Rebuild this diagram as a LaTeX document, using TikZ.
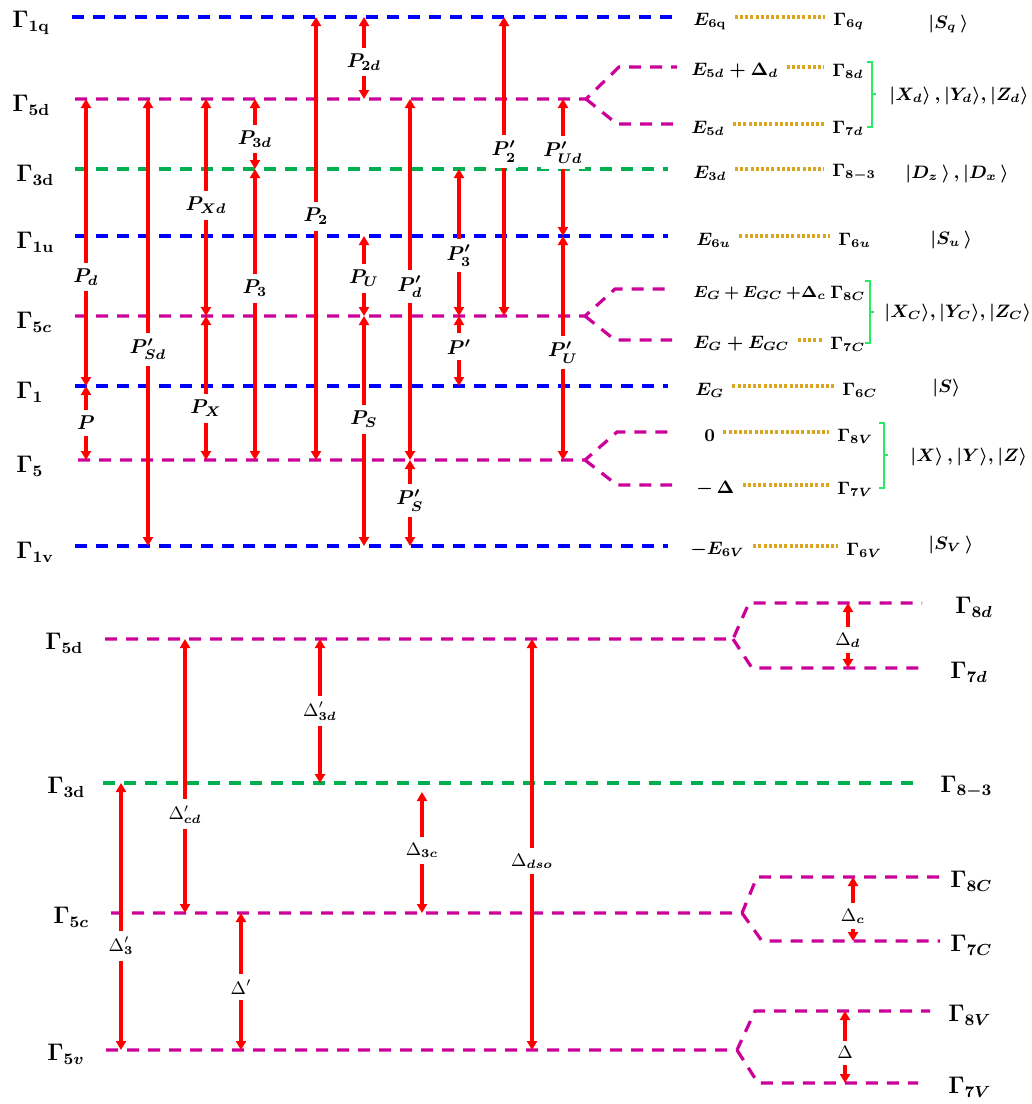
\documentclass[tikz,border=0pt]{standalone}
\usepackage{xcolor}
\usepackage{tikz}
\usetikzlibrary{arrows.meta}
\usepackage{amsmath,bm}

\definecolor{lvlblue}{RGB}{0,0,255}
\definecolor{lvlmag}{RGB}{204,0,153}
\definecolor{lvlgreen}{RGB}{0,176,80}
\definecolor{linkgold}{RGB}{218,165,32}
\definecolor{brgreen}{RGB}{40,235,100}

\begin{document}
\begin{tikzpicture}[
		x=0.5pt, y=-0.5pt,
		lvl/.style={line width=1.6pt, dash pattern=on 6pt off 4.5pt},
		gap/.style={red, line width=1.6pt, >={Triangle[width=5pt,length=4.5pt]}, <->},
		plab/.style={fill=white, text=black, font=\normalsize\boldmath, inner xsep=1pt, inner ysep=3pt},
		dlab/.style={fill=white, text=black, font=\small, inner xsep=1pt, inner ysep=3pt},
		glab/.style={font=\fontsize{11.5}{13}\selectfont\boldmath, anchor=west, inner sep=0pt, yshift=-3pt},
		blab/.style={font=\large\boldmath, anchor=west, inner sep=0pt, yshift=-2pt},
		rlab/.style={font=\small\boldmath, anchor=west, inner sep=0pt, yshift=-2pt},
		ket/.style={font=\small\boldmath, anchor=west, inner sep=0pt},
		lnk/.style={linkgold, line width=1.7pt, dash pattern=on 1.5pt off 1.1pt, shorten <=4pt, shorten >=4pt},
		brk/.style={brgreen, line width=1.1pt}
		]
		\useasboundingbox (0,0) rectangle (1032,1104);
		
		% levels, upper scheme
		\coordinate (t1q) at (0,17);
		\coordinate (t8d) at (0,67);
		\coordinate (t5d) at (0,99);
		\coordinate (t7d) at (0,124);
		\coordinate (t3d) at (0,169);
		\coordinate (t1u) at (0,236);
		\coordinate (t8c) at (0,289);
		\coordinate (t5c) at (0,316);
		\coordinate (t7c) at (0,340);
		\coordinate (t1) at (0,386);
		\coordinate (t8v) at (0,432);
		\coordinate (t5) at (0,460);
		\coordinate (t7v) at (0,485);
		\coordinate (t1v) at (0,546);
		
		\draw[lvl,lvlblue] (72,0 |- t1q) -- (678,0 |- t1q);
		\draw[lvl,lvlmag] (75,0 |- t5d) -- (586,0 |- t5d) -- (619,0 |- t8d) -- (677,0 |- t8d);
		\draw[lvl,lvlmag] (586,0 |- t5d) -- (617,0 |- t7d) -- (677,0 |- t7d);
		\draw[lvl,lvlgreen] (75,0 |- t3d) -- (668,0 |- t3d);
		\draw[lvl,lvlblue] (75,0 |- t1u) -- (668,0 |- t1u);
		\draw[lvl,lvlmag] (75,0 |- t5c) -- (585,0 |- t5c) -- (615,0 |- t8c) -- (672,0 |- t8c);
		\draw[lvl,lvlmag] (585,0 |- t5c) -- (615,0 |- t7c) -- (672,0 |- t7c);
		\draw[lvl,lvlblue] (75,0 |- t1) -- (668,0 |- t1);
		\draw[lvl,lvlmag] (78,0 |- t5) -- (585,0 |- t5) -- (617,0 |- t8v) -- (672,0 |- t8v);
		\draw[lvl,lvlmag] (585,0 |- t5) -- (617,0 |- t7v) -- (672,0 |- t7v);
		\draw[lvl,lvlblue] (75,0 |- t1v) -- (668,0 |- t1v);
		
		\node[glab] (g1q) at (12,0 |- t1q) {$\Gamma_{\mathbf{1q}}$};
		\node[glab] (g5d) at (12,0 |- t5d) {$\Gamma_{\mathbf{5d}}$};
		\node[glab] (g3d) at (16,0 |- t3d) {$\Gamma_{\mathbf{3d}}$};
		\node[glab] (g1u) at (16,0 |- t1u) {$\Gamma_{\mathbf{1u}}$};
		\node[glab] (g5c) at (16,0 |- t5c) {$\Gamma_{\mathbf{5}c}$};
		\node[glab] (g1) at (16,0 |- t1) {$\Gamma_{\mathbf{1}}$};
		\node[glab] (g5) at (16,0 |- t5) {$\Gamma_{\mathbf{5}}$};
		\node[glab] (g1v) at (16,0 |- t1v) {$\Gamma_{\mathbf{1v}}$};
		
		% momentum matrix elements
		\foreach \cx/\lo/\hi/\ps/\txt in {
			86/t5d/t1/.62/P_d,
			86/t1/t5/.5/P,
			148/t5d/t1v/.56/P'_{Sd},
			206/t5d/t5c/.49/P_{Xd},
			206/t5c/t5/.64/P_X,
			255/t5d/t3d/.57/P_{3d},
			255/t3d/t5/.41/P_3,
			316/t1q/t5/.45/P_2,
			364/t1q/t5d/.55/P_{2d},
			364/t1u/t5c/.53/P_U,
			364/t5c/t1v/.45/P_S,
			410/t5d/t5/.52/P'_d,
			410/t5/t1v/.47/P'_S,
			459/t3d/t5c/.59/P'_3,
			459/t5c/t1/.44/P',
			504/t1q/t5c/.45/P'_2,
			563/t5d/t1u/.39/P'_{Ud},
			563/t1u/t5/.52/P'_U}
		\draw[gap] (\cx,0 |- \lo) -- node[plab,pos=\ps] {$\txt$} (\cx,0 |- \hi);
		
		% energies and representations
		\node[rlab] (e6q) at (693,0 |- t1q) {$E_{\mathbf{6q}}$};
		\node[rlab] (r6q) at (833,0 |- t1q) {$\Gamma_{6q}$};
		\node[rlab] (e8d) at (691,0 |- t8d) {$E_{5d}+\Delta_d$};
		\node[rlab] (r8d) at (832,0 |- t8d) {$\Gamma_{8d}$};
		\node[rlab] (e7d) at (691,0 |- t7d) {$E_{5d}$};
		\node[rlab] (r7d) at (832,0 |- t7d) {$\Gamma_{7d}$};
		\node[rlab] (e3d) at (693,0 |- t3d) {$E_{3d}$};
		\node[rlab] (r83) at (832,0 |- t3d) {$\Gamma_{8-3}$};
		\node[rlab] (e6u) at (696,0 |- t1u) {$E_{6u}$};
		\node[rlab] (r6u) at (838,0 |- t1u) {$\Gamma_{6u}$};
		\node[rlab, font=\fontsize{8.5}{10}\selectfont\boldmath] (e8c) at (693,0 |- t8c) {$\medmuskip=3mu E_G+E_{GC}\,{+}\Delta_c$};
		\node[rlab] (r8c) at (830,0 |- t8c) {$\Gamma_{8C}$};
		\node[rlab] (e7c) at (693,0 |- t7c) {$E_G+E_{GC}$};
		\node[rlab] (r7c) at (830,0 |- t7c) {$\Gamma_{7C}$};
		\node[rlab] (eg) at (695,0 |- t1) {$E_G$};
		\node[rlab] (r6c) at (842,0 |- t1) {$\Gamma_{6C}$};
		\node[rlab] (e8v) at (704,0 |- t8v) {$0$};
		\node[rlab] (r8v) at (837,0 |- t8v) {$\Gamma_{8V}$};
		\node[rlab] (e7v) at (696,0 |- t7v) {$-\,\Delta$};
		\node[rlab] (r7v) at (837,0 |- t7v) {$\Gamma_{7V}$};
		\node[rlab] (e6v) at (690,0 |- t1v) {$-E_{6V}$};
		\node[rlab] (r6v) at (846,0 |- t1v) {$\Gamma_{6V}$};
		
		\draw[lnk] (e6q.east |- t1q) -- (r6q.west |- t1q);
		\draw[lnk] (e8d.east |- t8d) -- (r8d.west |- t8d);
		\draw[lnk] (e7d.east |- t7d) -- (r7d.west |- t7d);
		\draw[lnk] (e3d.east |- t3d) -- (r83.west |- t3d);
		\draw[lnk] (e6u.east |- t1u) -- (r6u.west |- t1u);
		\draw[lnk] (e7c.east |- t7c) -- (r7c.west |- t7c);
		\draw[lnk] (eg.east |- t1) -- (r6c.west |- t1);
		\draw[lnk] (e8v.east |- t8v) -- (r8v.west |- t8v);
		\draw[lnk] (e7v.east |- t7v) -- (r7v.west |- t7v);
		\draw[lnk] (e6v.east |- t1v) -- (r6v.west |- t1v);
		
		\draw[brk] (867,62) -- (872,62) -- (872,127) -- (867,127) (872,94) -- (876,94);
		\draw[brk] (865,281) -- (870,281) -- (870,343) -- (865,343) (870,312) -- (874,312);
		\draw[brk] (879,423) -- (884,423) -- (884,488) -- (879,488) (884,455) -- (888,455);
		
		\node[ket] (ksq) at (928,24) {$|S_q\,\rangle$};
		\node[ket] (kd) at (889,96) {$|X_d\rangle\,,|Y_d\rangle,|Z_d\rangle$};
		\node[ket] (kdd) at (905,174) {$|D_z\,\rangle\,,|D_x\,\rangle$};
		\node[ket] (ksu) at (930,240) {$|S_u\,\rangle$};
		\node[ket] (kc) at (884,313) {$|X_C\rangle,|Y_C\rangle,|Z_C\rangle$};
		\node[ket] (ks) at (932,388) {$|S\rangle$};
		\node[ket] (kv) at (910,457) {$|X\rangle\,,|Y\rangle,|Z\rangle$};
		\node[ket] (ksv) at (928,545) {$|S_V\,\rangle$};
		
		% levels, lower scheme
		\coordinate (b8d) at (0,603);
		\coordinate (b5d) at (0,639);
		\coordinate (b7d) at (0,668);
		\coordinate (b3d) at (0,783);
		\coordinate (b8c) at (0,877);
		\coordinate (b5c) at (0,913);
		\coordinate (b7c) at (0,941);
		\coordinate (b8v) at (0,1011);
		\coordinate (b5v) at (0,1050);
		\coordinate (b7v) at (0,1083);
		
		\draw[lvl,lvlmag] (105,0 |- b5d) -- (733,0 |- b5d) -- (749,0 |- b8d) -- (922,0 |- b8d);
		\draw[lvl,lvlmag] (733,0 |- b5d) -- (752,0 |- b7d) -- (922,0 |- b7d);
		\draw[lvl,lvlgreen] (103,0 |- b3d) -- (922,0 |- b3d);
		\draw[lvl,lvlmag] (111,0 |- b5c) -- (742,0 |- b5c) -- (757,0 |- b8c) -- (940,0 |- b8c);
		\draw[lvl,lvlmag] (742,0 |- b5c) -- (762,0 |- b7c) -- (940,0 |- b7c);
		\draw[lvl,lvlmag] (106,0 |- b5v) -- (737,0 |- b5v) -- (755,0 |- b8v) -- (930,0 |- b8v);
		\draw[lvl,lvlmag] (737,0 |- b5v) -- (758,0 |- b7v) -- (918,0 |- b7v);
		
		\node[blab] (h5d) at (45,0 |- b5d) {$\Gamma_{\mathbf{5d}}$};
		\node[blab] (h3d) at (47,0 |- b3d) {$\Gamma_{\mathbf{3d}}$};
		\node[blab] (h5c) at (53,0 |- b5c) {$\Gamma_{\mathbf{5}c}$};
		\node[blab] (h5v) at (47,0 |- b5v) {$\Gamma_{\mathbf{5}v}$};
		\node[blab] (h8d) at (955,0 |- b8d) {$\Gamma_{8d}$};
		\node[blab] (h7d) at (950,0 |- b7d) {$\Gamma_{7d}$};
		\node[blab] (h83) at (940,0 |- b3d) {$\Gamma_{8-3}$};
		\node[blab] (h8c) at (950,0 |- b8c) {$\Gamma_{8C}$};
		\node[blab] (h7c) at (950,0 |- b7c) {$\Gamma_{7C}$};
		\node[blab] (h8v) at (948,0 |- b8v) {$\Gamma_{8V}$};
		\node[blab] (h7v) at (948,0 |- b7v) {$\Gamma_{7V}$};
		
		% splittings
		\foreach \cx/\lo/\hi/\ps/\txt in {
			185/b5d/b5c/.64/\Delta'_{\bm{cd}},
			320/b5d/b3d/.5/\Delta'_{\bm{3d}},
			121/b3d/b5v/.61/\Delta'_{\bm{3}},
			241/b5c/b5v/.54/\Delta',
			532/b5d/b5v/.54/\Delta_{\bm{dso}},
			848/b8d/b7d/.57/\Delta_{\bm{d}},
			853/b8c/b7c/.61/\Delta_{\bm{c}},
			845/b8v/b7v/.58/\Delta}
		\draw[gap] (\cx,0 |- \lo) -- node[dlab,pos=\ps] {$\txt$} (\cx,0 |- \hi);
		\draw[gap, shorten <=4.5pt] (422,0 |- b3d) -- node[dlab,pos=.52] {$\Delta_{\bm{3c}}$} (422,0 |- b5c);
		
	\end{tikzpicture}
\end{document}
